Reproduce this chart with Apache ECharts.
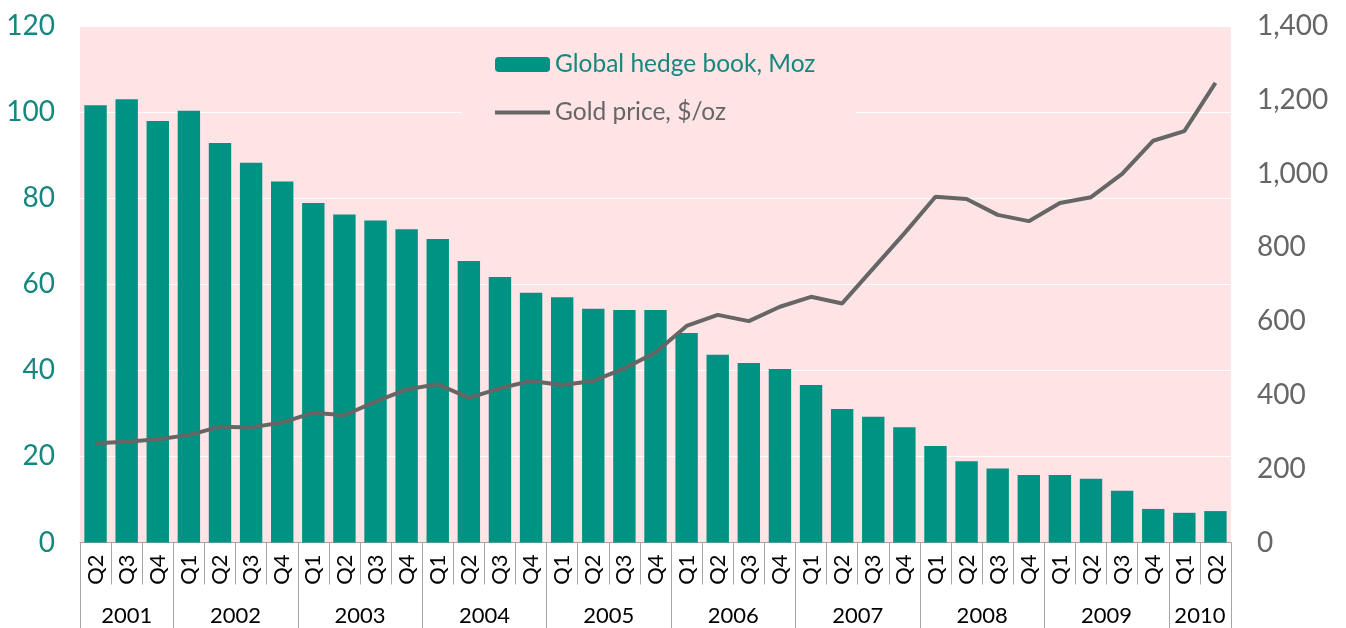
<!DOCTYPE html>
<html>
<head>
<meta charset="utf-8">
<script src="https://cdn.jsdelivr.net/npm/echarts@6/dist/echarts.min.js"></script>
<style>html,body{margin:0;padding:0;background:#fff}#c{width:1346px;height:628px}</style>
</head>
<body>
<div id="c"></div>
<script>
// ---- data ----
var quarters = ['Q2','Q3','Q4',
  'Q1','Q2','Q3','Q4',
  'Q1','Q2','Q3','Q4',
  'Q1','Q2','Q3','Q4',
  'Q1','Q2','Q3','Q4',
  'Q1','Q2','Q3','Q4',
  'Q1','Q2','Q3','Q4',
  'Q1','Q2','Q3','Q4',
  'Q1','Q2','Q3','Q4',
  'Q1','Q2'];
var years = ['2001','2002','2003','2004','2005','2006','2007','2008','2009','2010'];
var quartersPerYear = [3,4,4,4,4,4,4,4,4,2];
var hedgeBook = [101.6,103.0,97.9,
  100.3,92.8,88.2,83.9,
  78.9,76.2,74.8,72.8,
  70.5,65.4,61.7,58.0,
  57.0,54.3,54.0,54.0,
  48.7,43.6,41.7,40.3,
  36.6,31.0,29.2,26.8,
  22.4,18.9,17.2,15.7,
  15.7,14.8,12.0,7.8,
  6.9,7.3];
var goldPrice = [269,273,280,
  291,314,312,325,
  352,345,382,415,
  429,392,418,438,
  427,438,472,515,
  587,617,600,639,
  666,648,743,838,
  937,931,888,871,
  920,936,999,1089,
  1115,1246];
var leftTicks = {min:0, max:120, interval:20};
var rightTicks = {min:0, max:1400, interval:200};

// ---- year axis built from half-quarter points ----
var nPoints = quarters.length * 2 + 1;
var yearAxisData = [];
for (var i = 0; i < nPoints; i++) yearAxisData.push('');
var boundaries = {};
var q = 0;
boundaries[0] = true;
for (var y = 0; y < years.length; y++) {
  var center = q + quartersPerYear[y] / 2;
  yearAxisData[Math.round(center * 2)] = years[y];
  q += quartersPerYear[y];
  boundaries[q * 2] = true;
}

var FONT = 'Lato';
var TEAL = '#009282';
var chart = echarts.init(document.getElementById('c'));
chart.setOption({
  animation: false,
  textStyle: {fontFamily: FONT},
  grid: {left: 80, right: 115, top: 26, bottom: 85.5, show: true,
         backgroundColor: '#FFE4E5', borderWidth: 0, containLabel: false},
  legend: {
    orient: 'vertical', left: 462, top: 38,
    padding: [14, 40, 10, 31],
    backgroundColor: '#FFE4E5',
    itemWidth: 55, itemHeight: 15, itemGap: 23,
    textStyle: {fontFamily: FONT, fontSize: 24.5},
    data: [
      {name: 'Global hedge book, Moz', textStyle: {color: '#16877D'}},
      {name: 'Gold price, $/oz', textStyle: {color: '#666666'}, itemStyle: {opacity: 0},
       lineStyle: {width: 4, color: '#666666'}}
    ]
  },
  xAxis: [
    {
      type: 'category', data: quarters, position: 'bottom',
      axisLine: {show: true, onZero: false, lineStyle: {color: '#A6A6A6', width: 1}},
      axisTick: {show: true, interval: 0, length: 42, lineStyle: {color: '#A6A6A6'}},
      axisLabel: {interval: 0, rotate: 90, margin: 12, fontSize: 22, color: '#000', fontFamily: FONT},
      splitLine: {show: false}
    },
    {
      type: 'category', data: yearAxisData, position: 'bottom', boundaryGap: false,
      axisLine: {show: false, onZero: false},
      axisTick: {show: true, length: 86, lineStyle: {color: '#A6A6A6'},
                 interval: function (idx) { return !!boundaries[idx]; }},
      axisLabel: {interval: 0, margin: 62, fontSize: 22, color: '#000', fontFamily: FONT},
      splitLine: {show: false}
    }
  ],
  yAxis: [
    {
      type: 'value', min: leftTicks.min, max: leftTicks.max, interval: leftTicks.interval,
      axisLine: {show: false}, axisTick: {show: false},
      axisLabel: {margin: 25, fontSize: 28, color: '#16877D', fontFamily: FONT},
      splitLine: {show: true, lineStyle: {color: '#FFFFFF', width: 1}}
    },
    {
      type: 'value', min: rightTicks.min, max: rightTicks.max, interval: rightTicks.interval,
      position: 'right',
      axisLine: {show: false}, axisTick: {show: false},
      axisLabel: {margin: 26, fontSize: 28, color: '#666666', fontFamily: FONT,
        formatter: function (v) { return v.toLocaleString('en-US'); }},
      splitLine: {show: false}
    }
  ],
  series: [
    {
      name: 'Global hedge book, Moz', type: 'bar', data: hedgeBook,
      xAxisIndex: 0, yAxisIndex: 0, barCategoryGap: '28%',
      itemStyle: {color: TEAL}
    },
    {
      name: 'Gold price, $/oz', type: 'line', data: goldPrice,
      xAxisIndex: 0, yAxisIndex: 1, symbol: 'none',
      lineStyle: {color: '#666666', width: 4},
      itemStyle: {color: '#666666'}
    }
  ]
});
</script>
</body>
</html>
